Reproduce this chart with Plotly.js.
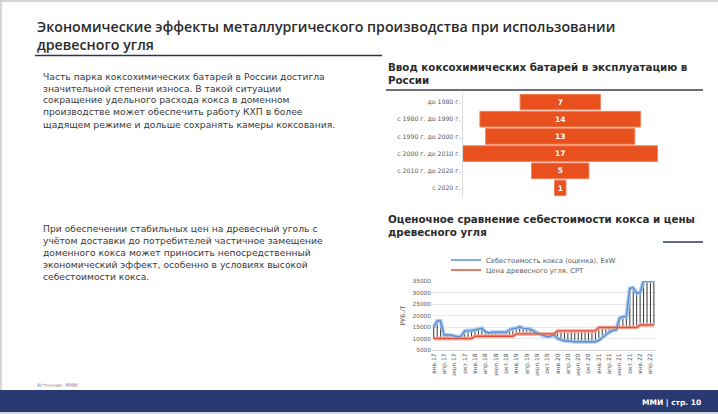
<!DOCTYPE html>
<html>
<head>
<meta charset="utf-8">
<script src="https://cdn.plot.ly/plotly-3.0.1.min.js"></script>
<style>html,body{margin:0;padding:0;background:#fff}#chart{width:718px;height:414px}</style>
</head>
<body>
<div id="chart"></div>
<script>
// ---- Data: coke battery commissioning ----
const periods = ["до 1980 г.", "с 1980 г. до 1990 г.", "с 1990 г. до 2000 г.", "с 2000 г. до 2010 г.", "с 2010 г. до 2020 г.", "с 2020 г."];
const batteries = [7, 14, 13, 17, 5, 1];

// ---- Data: coke cost vs charcoal price (RUB/t), monthly ----
const months = [
  "янв.17","фев.17","мар.17","апр.17","май.17","июн.17","июл.17","авг.17","сен.17","окт.17","ноя.17","дек.17",
  "янв.18","фев.18","мар.18","апр.18","май.18","июн.18","июл.18","авг.18","сен.18","окт.18","ноя.18","дек.18",
  "янв.19","фев.19","мар.19","апр.19","май.19","июн.19","июл.19","авг.19","сен.19","окт.19","ноя.19","дек.19",
  "янв.20","фев.20","мар.20","апр.20","май.20","июн.20","июл.20","авг.20","сен.20","окт.20","ноя.20","дек.20",
  "янв.21","фев.21","мар.21","апр.21","май.21","июн.21","июл.21","авг.21","сен.21","окт.21","ноя.21","дек.21",
  "янв.22","фев.22","мар.22","апр.22","май.22"
];
const cokeCost = [
  15100,17600,17600,11500,11500,11500,11100,10700,11000,13300,13300,13300,
  13700,14100,14400,13000,12400,12700,12700,12700,12700,12700,13700,14400,
  14400,15100,14400,14400,14100,13300,12300,11800,11200,10800,11100,11500,
  10000,9400,9000,8900,8600,8600,8600,8600,8600,8600,8600,8600,
  9200,10500,11500,12700,13500,13700,18800,19500,19500,31800,32100,29700,
  30000,35000,35000,35000,35000
];
const charcoalPrice = [
  10000,10000,10000,10000,10000,10000,10000,10000,10000,10000,10000,10000,
  11000,11000,11000,11000,11000,11000,11000,11000,11000,11000,11000,11000,
  12000,12000,12000,12000,12000,12000,12000,12000,12000,12000,12000,12000,
  13300,13300,13300,13300,13300,13300,13300,13300,13300,13300,13300,13300,
  14800,14800,14800,14800,14800,14800,14800,14800,14800,14800,14800,14800,
  15900,15900,15900,15900,15900
];
const tickLabels = ["янв.17","апр.17","июл.17","окт.17","янв.18","апр.18","июл.18","окт.18","янв.19","апр.19","июл.19","окт.19",
  "янв.20","апр.20","июл.20","окт.20","янв.21","апр.21","июл.21","окт.21","янв.22","апр.22"];
const yTicks = [5000,10000,15000,20000,25000,30000,35000];

// ---- Texts ----
const mainTitle1 = "Экономические эффекты металлургического производства при использовании";
const mainTitle2 = "древесного угля";
const text1 = ["Часть парка коксохимических батарей в России достигла",
  "значительной степени износа. В такой ситуации",
  "сокращение удельного расхода кокса в доменном",
  "производстве может обеспечить работу КХП в более",
  "щадящем режиме и дольше сохранять камеры коксования."];
const text2 = ["При обеспечении стабильных цен на древесный уголь с",
  "учётом доставки до потребителей частичное замещение",
  "доменного кокса может приносить непосредственный",
  "экономический эффект, особенно в условиях высокой",
  "себестоимости кокса."];
const chartTitle1 = "Ввод коксохимических батарей в эксплуатацию в<br>России";
const chartTitle2 = "Оценочное сравнение себестоимости кокса и цены<br>древесного угля";

const W = 718, H = 414;
const X = p => p / W, Y = p => 1 - p / H;
const FONT = "DejaVu Sans";

// drop lines between the two series
const dropX = [], dropY = [];
for (let i = 0; i < months.length; i++) {
  dropX.push(months[i], months[i], null);
  dropY.push(charcoalPrice[i], cokeCost[i], null);
}

const traces = [
  {
    type: "funnel", orientation: "h", y: periods, x: batteries,
    xaxis: "x", yaxis: "y",
    marker: {color: "#E8501E", line: {color: "#F3835C", width: 1}},
    textinfo: "value", textposition: "inside", insidetextanchor: "middle",
    textfont: {family: FONT, size: 7.5, color: "#ffffff", weight: "bold"},
    connector: {visible: false}, hoverinfo: "skip", showlegend: false
  },
  {
    type: "scatter", mode: "lines", x: dropX, y: dropY, xaxis: "x2", yaxis: "y2",
    line: {color: "#000000", width: 0.8}, showlegend: false, hoverinfo: "skip"
  },
  {
    type: "scatter", mode: "lines", x: months, y: cokeCost, xaxis: "x2", yaxis: "y2",
    line: {color: "rgba(165,198,232,0.9)", width: 4}, showlegend: false, hoverinfo: "skip"
  },
  {
    type: "scatter", mode: "lines", x: months, y: charcoalPrice, xaxis: "x2", yaxis: "y2",
    line: {color: "rgba(245,176,158,0.9)", width: 4}, showlegend: false, hoverinfo: "skip"
  },
  {
    type: "scatter", mode: "lines", x: months, y: cokeCost, xaxis: "x2", yaxis: "y2",
    name: "Себестоимость кокса (оценка), ExW", legend: "legend",
    line: {color: "#5B8FD2", width: 1.4}
  },
  {
    type: "scatter", mode: "lines", x: months, y: charcoalPrice, xaxis: "x2", yaxis: "y2",
    name: "Цена древесного угля, СРТ", legend: "legend2",
    line: {color: "#E0503A", width: 1.4}
  }
];

const annotations = [];
function addText(text, xpx, ypx, size, color, opts) {
  annotations.push(Object.assign({
    text: text, xref: "paper", yref: "paper", x: X(xpx), y: Y(ypx),
    xanchor: "left", yanchor: "middle", showarrow: false, align: "left",
    font: {family: FONT, size: size, color: color}
  }, opts || {}));
}
const titleFont = {family: "Open Sans", size: 14.2, color: "#2b2b2b", weight: 600};
addText(mainTitle1 + "<br>" + mainTitle2, 35, 35.5, 14.2, "#2b2b2b", {font: titleFont});
text1.forEach((t, i) => addText(t, 41, 76 + i * 12, 9.2, "#3a3a3a"));
text2.forEach((t, i) => addText(t, 41, 228 + i * 12, 9.2, "#3a3a3a"));
addText(chartTitle1, 386, 59, 10.3, "#2b2b2b", {yanchor: "top", font: {family: FONT, size: 10.3, color: "#2b2b2b", weight: "bold"}});
addText(chartTitle2, 386, 211, 10.3, "#2b2b2b", {yanchor: "top", font: {family: FONT, size: 10.3, color: "#2b2b2b", weight: "bold"}});
addText("Источник: ММИ", 35, 385, 5, "#8c8c8c");
addText("ММИ | стр. 10", 703, 402, 7.5, "#ffffff", {xanchor: "right", font: {family: FONT, size: 7.5, color: "#ffffff", weight: "bold"}});

const shapes = [
  {type: "line", xref: "paper", yref: "paper", x0: 0, x1: 1, y0: Y(1), y1: Y(1), line: {color: "#c8c8c8", width: 1.5}},
  {type: "line", xref: "paper", yref: "paper", x0: X(1), x1: X(1), y0: 0, y1: 1, line: {color: "#c8c8c8", width: 1.5}},
  {type: "line", xref: "paper", yref: "paper", x0: X(35), x1: X(382), y0: Y(55.5), y1: Y(55.5), line: {color: "#2e3548", width: 1.5}},
  {type: "line", xref: "paper", yref: "paper", x0: X(386), x1: X(703), y0: Y(90), y1: Y(90), line: {color: "#3a4052", width: 1.5}},
  {type: "line", xref: "paper", yref: "paper", x0: X(663), x1: X(703), y0: Y(242), y1: Y(242), line: {color: "#2e3a60", width: 1.5}},
  {type: "rect", xref: "paper", yref: "paper", x0: 0, x1: 1, y0: Y(412), y1: Y(390), fillcolor: "#293a70", line: {width: 0}},
  {type: "rect", xref: "paper", yref: "paper", x0: 0, x1: 1, y0: 0, y1: Y(412), fillcolor: "#d3d7df", line: {width: 0}}
];

const legendBase = {xanchor: "left", yanchor: "middle", orientation: "v",
  font: {family: FONT, size: 6.8, color: "#595959"}, bgcolor: "rgba(0,0,0,0)", itemwidth: 30, tracegroupgap: 0,
  borderwidth: 0};

const layout = {
  width: W, height: H, margin: {l: 0, r: 0, t: 0, b: 0},
  paper_bgcolor: "#ffffff", plot_bgcolor: "rgba(0,0,0,0)",
  funnelgap: 0.09,
  xaxis: {domain: [X(462.7), X(657.8)], anchor: "y", range: [-8.5, 8.5], visible: false, fixedrange: true},
  yaxis: {domain: [Y(196.6), Y(93.4)], anchor: "x", showline: true, linecolor: "#d9d9d9", linewidth: 1,
    ticks: "", tickfont: {family: FONT, size: 6.2, color: "#595959"}, showgrid: false},
  xaxis2: {domain: [X(432), X(655.6)], anchor: "y2", type: "category", range: [-0.5, 64.5],
    tickmode: "array", tickvals: tickLabels, ticktext: tickLabels, tickangle: -90,
    tickfont: {family: FONT, size: 6, color: "#595959"}, showgrid: false,
    showline: true, linecolor: "#d9d9d9", ticks: ""},
  yaxis2: {domain: [Y(350), Y(281)], anchor: "x2", range: [5000, 35000], tickmode: "array", tickvals: yTicks,
    tickformat: "d",
    tickfont: {family: FONT, size: 5.8, color: "#595959"}, gridcolor: "#e4e4e4", gridwidth: 0.8, zeroline: false,
    ticks: "", title: {text: "РУБ./Т", font: {family: FONT, size: 6.3, color: "#595959"}, standoff: 6}},
  showlegend: true,
  legend: Object.assign({x: X(446), y: Y(260)}, legendBase),
  legend2: Object.assign({x: X(446), y: Y(270)}, legendBase),
  annotations: annotations, shapes: shapes
};

Plotly.newPlot("chart", traces, layout, {staticPlot: true, displayModeBar: false});
</script>
</body>
</html>
